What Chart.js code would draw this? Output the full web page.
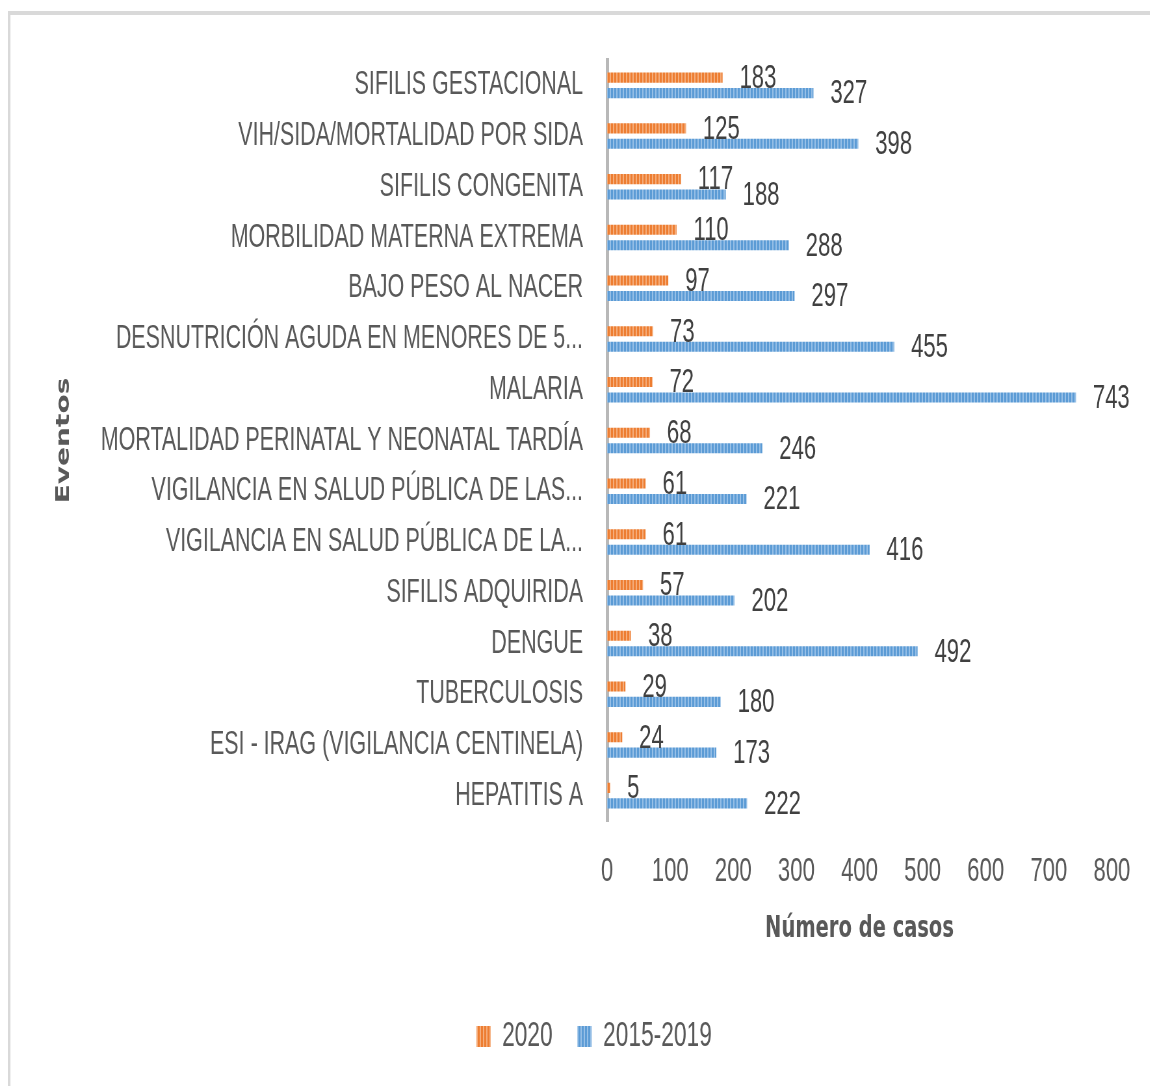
<!DOCTYPE html>
<html>
<head>
<meta charset="utf-8">
<script src="https://cdn.jsdelivr.net/npm/chart.js@4.4.1/dist/chart.umd.min.js"></script>
<style>
  html, body { margin: 0; padding: 0; background: #fff; }
  #wrap { width: 1150px; height: 1086px; overflow: hidden; position: relative; }
  #chart { position: absolute; left: 0; top: 0; transform-origin: 0 0; }
</style>
</head>
<body>
<div id="wrap"><canvas id="chart"></canvas></div>
<script>
const eventos = [
    'SIFILIS GESTACIONAL',
    'VIH/SIDA/MORTALIDAD POR SIDA',
    'SIFILIS CONGENITA',
    'MORBILIDAD MATERNA EXTREMA',
    'BAJO PESO AL NACER',
    'DESNUTRICIÓN AGUDA EN MENORES DE 5...',
    'MALARIA',
    'MORTALIDAD PERINATAL Y NEONATAL TARDÍA',
    'VIGILANCIA EN SALUD PÚBLICA DE LAS...',
    'VIGILANCIA EN SALUD PÚBLICA DE LA...',
    'SIFILIS ADQUIRIDA',
    'DENGUE',
    'TUBERCULOSIS',
    'ESI - IRAG (VIGILANCIA CENTINELA)',
    'HEPATITIS A'
];
const casos2020 = [183, 125, 117, 110, 97, 73, 72, 68, 61, 61, 57, 38, 29, 24, 5];
const casos2015a2019 = [327, 398, 188, 288, 297, 455, 743, 246, 221, 416, 202, 492, 180, 173, 222];
const serieNombres = ['2020', '2015-2019'];
const xTicks = [0, 100, 200, 300, 400, 500, 600, 700, 800];

// el texto del original es muy condensado: se dibuja el gráfico más ancho y se comprime con CSS
const SQUEEZE = 0.65;
const W = Math.round(1150 / SQUEEZE);
const H = 1086;

const canvas = document.getElementById('chart');
canvas.width = W;
canvas.height = H;
canvas.style.width = W + 'px';
canvas.style.height = H + 'px';
canvas.style.transform = 'scaleX(' + SQUEEZE + ')';

// relleno rayado vertical como en Excel
function rayado(base, claro) {
    const c = document.createElement('canvas');
    c.width = 5;
    c.height = 4;
    const g = c.getContext('2d');
    g.fillStyle = base;
    g.fillRect(0, 0, 5, 4);
    g.fillStyle = claro;
    g.fillRect(3, 0, 2, 4);
    return g.createPattern(c, 'repeat');
}

const marco = {
    id: 'marco',
    beforeDraw(chart) {
        const ctx = chart.ctx;
        ctx.save();
        ctx.fillStyle = '#fff';
        ctx.fillRect(0, 0, chart.width, chart.height);
        ctx.strokeStyle = '#d9d9d9';
        ctx.lineWidth = 4;
        ctx.strokeRect(14, 13, chart.width + 40, chart.height + 40);
        ctx.restore();
    },
    // la leyenda del original está algo a la derecha del centro
    afterLayout(chart) {
        chart.legend.left += 17;
        chart.legend.right += 17;
    }
};

const etiquetas = {
    id: 'etiquetas',
    afterDatasetsDraw(chart) {
        const ctx = chart.ctx;
        ctx.save();
        ctx.font = '34px "Liberation Sans", Arial, sans-serif';
        ctx.fillStyle = '#404040';
        ctx.textAlign = 'left';
        ctx.textBaseline = 'middle';
        chart.data.datasets.forEach((ds, i) => {
            chart.getDatasetMeta(i).data.forEach((bar, j) => {
                ctx.fillText(String(ds.data[j]), bar.x + 26, bar.y + 1);
            });
        });
        ctx.restore();
    }
};

Chart.defaults.font.family = '"Liberation Sans", Arial, sans-serif';
Chart.defaults.color = '#595959';

new Chart(canvas, {
    type: 'bar',
    data: {
        labels: eventos,
        datasets: [
            {
                label: serieNombres[0],
                data: casos2020,
                backgroundColor: rayado('#ED7D31', '#F5AE7C'),
                categoryPercentage: 0.61,
                barPercentage: 0.65
            },
            {
                label: serieNombres[1],
                data: casos2015a2019,
                backgroundColor: rayado('#5B9BD5', '#97C0E7'),
                categoryPercentage: 0.61,
                barPercentage: 0.65
            }
        ]
    },
    options: {
        indexAxis: 'y',
        responsive: false,
        animation: false,
        layout: { padding: { left: 82, right: 57, top: 60, bottom: 22 } },
        scales: {
            x: {
                min: 0,
                max: 800,
                afterBuildTicks: (scale) => { scale.ticks = xTicks.map(v => ({ value: v })); },
                afterFit: (scale) => { scale.height = 160; },
                grid: { display: false, drawTicks: false },
                border: { display: false },
                ticks: { padding: 30, font: { size: 34 }, color: '#595959', maxRotation: 0 },
                title: {
                    display: true,
                    text: 'Número de casos',
                    color: '#595959',
                    font: { family: '"DejaVu Sans", sans-serif', weight: 'bold', size: 30 },
                    padding: { top: 0, bottom: 34 }
                }
            },
            y: {
                afterFit: (scale) => { scale.width = 852; },
                grid: { display: false, drawTicks: false },
                border: { display: true, color: '#b8b8b8', width: 5 },
                ticks: { padding: 37, font: { size: 33 }, color: '#595959', autoSkip: false },
                title: {
                    display: true,
                    text: 'Eventos',
                    color: '#595959',
                    font: { family: '"DejaVu Sans", sans-serif', weight: 'bold', size: 28 },
                    padding: { top: 0, bottom: 0 }
                }
            }
        },
        plugins: {
            legend: {
                position: 'bottom',
                labels: {
                    boxWidth: 22,
                    boxHeight: 21,
                    padding: 38,
                    font: { size: 35 },
                    color: '#595959'
                }
            },
            tooltip: { enabled: false }
        }
    },
    plugins: [marco, etiquetas]
});
</script>
</body>
</html>
